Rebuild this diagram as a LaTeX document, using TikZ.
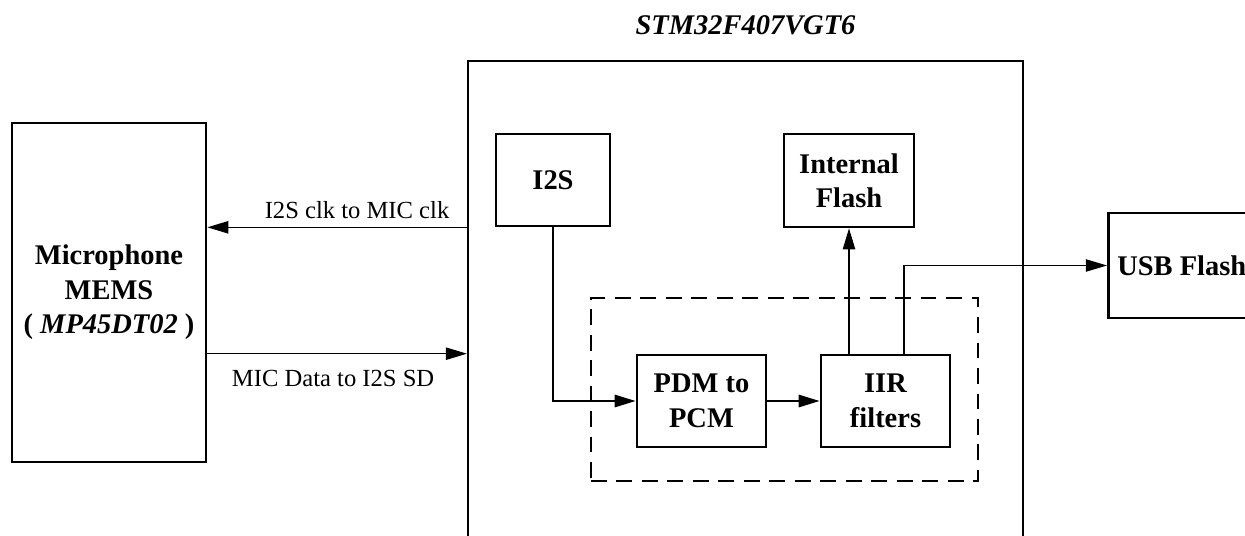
\documentclass[tikz,border=0pt]{standalone}
\usepackage{fontspec}
\setmainfont{Liberation Serif}
\usetikzlibrary{arrows.meta,positioning}

\begin{document}
\begin{tikzpicture}[
        blk/.style={draw, line width=1.5pt, align=center, inner sep=0pt,
            font=\fontsize{16.2}{19.6}\selectfont\bfseries},
        arr/.style={-{Triangle[length=12pt,width=7pt]}, line width=1.3pt},
        lbl/.style={font=\fontsize{14}{17}\selectfont}
    ]
        \useasboundingbox (0,0) rectangle (24.9,10.7);
        \clip (0,0) rectangle (24.9,10.7);

        % microphone and chip outline
        \node[blk, minimum width=3.88cm, minimum height=6.78cm] (mic) at (2.18,4.85) {Microphone\\MEMS\\( \textit{MP45DT02} )};
        \node[draw, line width=1.2pt, minimum width=11.1cm, minimum height=10.48cm] (stm) at (14.91,4.24) {};
        \node[above=0.5cm of stm.north, anchor=base, font=\fontsize{16.2}{19.6}\selectfont\bfseries\itshape] (chip) {STM32F407VGT6};

        % processing block
        \node[draw, dashed, dash pattern=on 9pt off 5.5pt, line width=1.2pt, minimum width=7.74cm, minimum height=3.66cm] (dsp) at (15.69,2.91) {};

        \node[blk, minimum width=2.28cm, minimum height=1.84cm] (i2s) at (11.06,7.10) {I2S};
        \node[blk, minimum width=2.6cm, minimum height=1.86cm] (flash) at (16.98,7.09) {Internal\\Flash};
        \node[blk, minimum width=2.58cm, minimum height=1.84cm] (pdm) at (14.03,2.68) {PDM to\\PCM};
        \node[blk, minimum width=2.58cm, minimum height=1.84cm] (iir) at (17.71,2.68) {IIR\\filters};
        \node[blk, anchor=west, minimum height=2.1cm, inner xsep=0.18cm] (usb) at (22.14,5.39) {USB Flash};

        % connections
        \draw[arr, line width=0.9pt] (stm.west |- i2s.south) -- node[lbl, pos=0, anchor=base east, xshift=-0.22cm, yshift=0.18cm] {I2S clk to MIC clk} (mic.east |- i2s.south);
        \draw[arr, line width=0.9pt] (mic.east |- pdm.north) -- node[lbl, pos=0, anchor=base west, xshift=0.36cm, yshift=-0.66cm] {MIC Data to I2S SD} (stm.west |- pdm.north);
        \draw[arr] (i2s.south) |- (pdm.west);
        \draw[arr] (pdm) -- (iir);
        \draw[arr, line width=0.9pt] (flash.south |- iir.north) -- (flash.south);
        \draw[arr, line width=0.7pt] ([xshift=0.37cm]iir.north) |- (usb.west);
    \end{tikzpicture}
\end{document}
